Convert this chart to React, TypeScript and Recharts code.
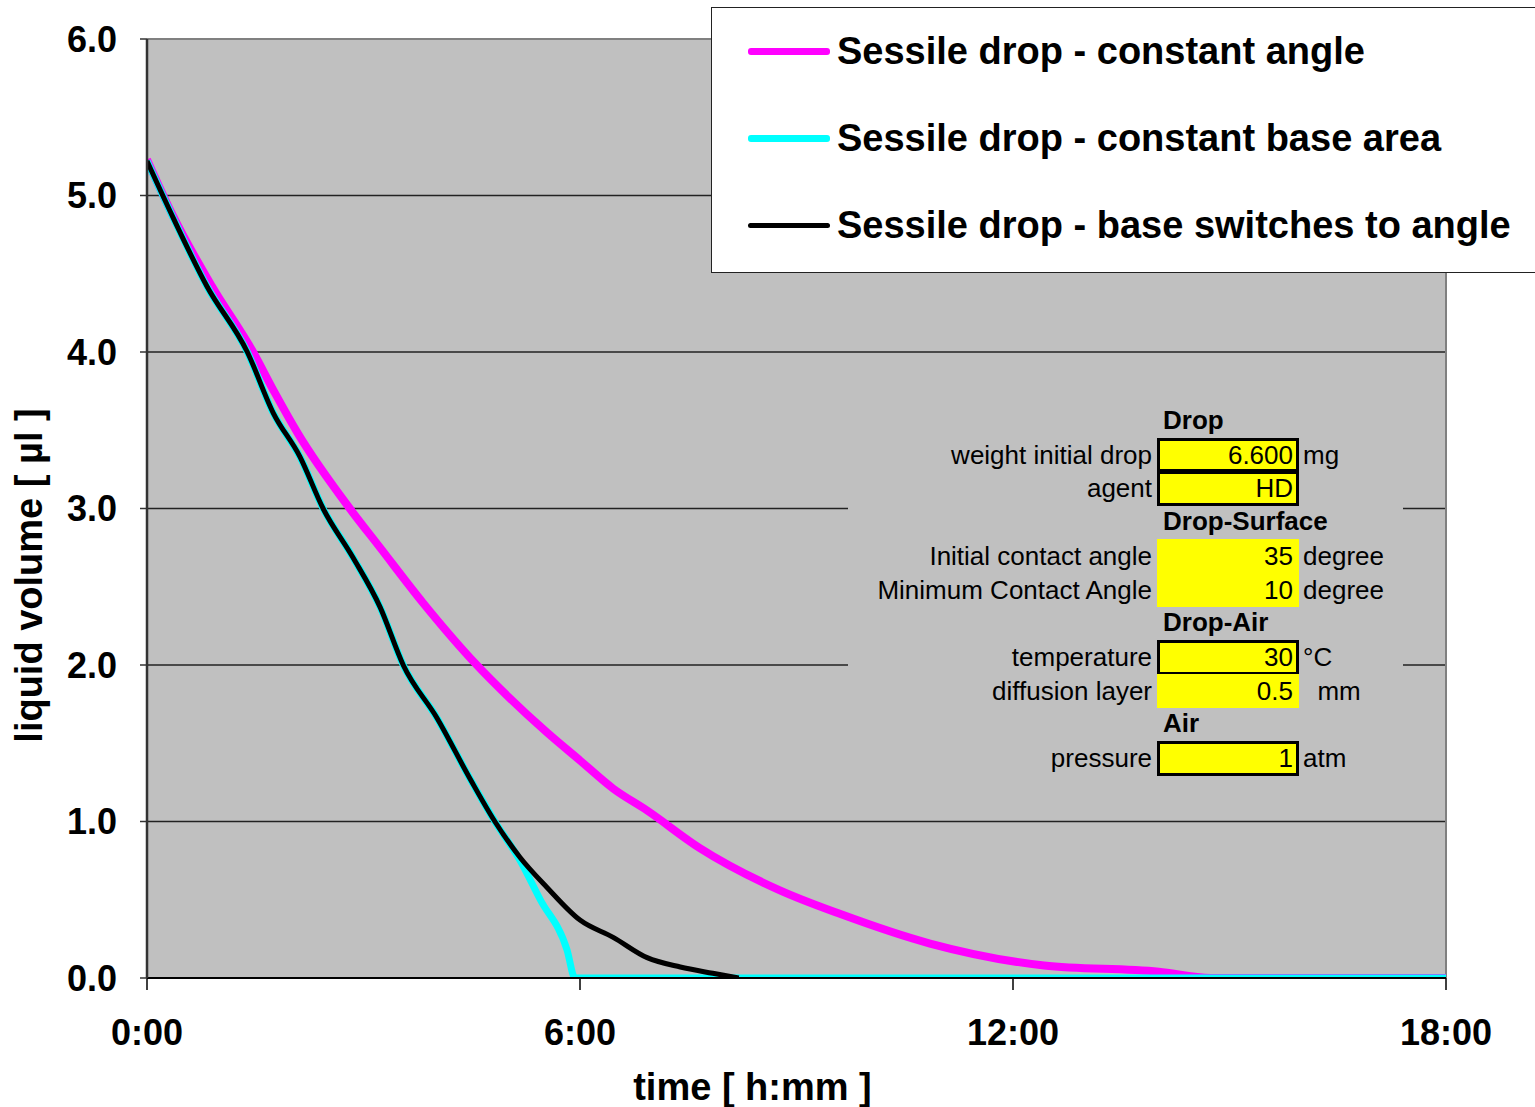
import * as React from 'react';
import {
  LineChart, Line, XAxis, YAxis, CartesianGrid, Legend, ReferenceLine
} from 'recharts';

// time in hours, liquid volume in µl
const angleTime = [0, 0.36, 0.9, 1.47, 1.77, 2.09, 2.81, 3.23, 3.82, 4.57, 5.0, 5.54, 6.0, 6.46, 6.93, 7.66, 8.77, 9.6, 10.85, 12.43, 14.02, 14.74, 18];
const angleVol = [5.23, 4.87, 4.42, 4.0, 3.74, 3.48, 3.0, 2.75, 2.4, 2.0, 1.8, 1.57, 1.39, 1.21, 1.07, 0.83, 0.56, 0.41, 0.22, 0.08, 0.04, 0, 0];

const baseTime = [0, 0.36, 0.83, 1.39, 1.75, 2.12, 2.44, 2.85, 3.23, 3.55, 4.02, 4.48, 4.82, 5.17, 5.45, 5.82, 5.93, 18];
const baseVol = [5.22, 4.86, 4.42, 4.0, 3.61, 3.33, 3.0, 2.69, 2.37, 2.0, 1.66, 1.27, 1.0, 0.75, 0.5, 0.18, 0, 0];

const switchTime = [0, 0.36, 0.83, 1.39, 1.75, 2.12, 2.44, 2.85, 3.23, 3.55, 4.02, 4.48, 4.82, 5.17, 5.54, 6.0, 6.46, 6.93, 7.39, 7.84, 8.2];
const switchVol = [5.22, 4.86, 4.42, 4.0, 3.61, 3.33, 3.0, 2.69, 2.37, 2.0, 1.66, 1.27, 1.0, 0.77, 0.58, 0.37, 0.26, 0.13, 0.07, 0.03, 0];

const seriesNames = ['Sessile drop - constant angle', 'Sessile drop - constant base area', 'Sessile drop - base switches to angle'];
const seriesColors = ['#FF00FF', '#00FFFF', '#000000'];
const seriesWidths = [8, 7, 5];
const legendWidths = [7, 7, 5];

const xTicks = [0, 6, 12, 18];
const yTicks = [0, 1, 2, 3, 4, 5, 6];

// parameter table: [label, value, unit, boxed] ; header rows have only a label
const tableRows: Array<[string, string?, string?, boolean?]> = [
  ['Drop'],
  ['weight initial drop', '6.600', 'mg', true],
  ['agent', 'HD', '', true],
  ['Drop-Surface'],
  ['Initial contact angle', '35', 'degree', false],
  ['Minimum Contact Angle', '10', 'degree', false],
  ['Drop-Air'],
  ['temperature', '30', '°C', true],
  ['diffusion layer', '0.5', '  mm', false],
  ['Air'],
  ['pressure', '1', 'atm', true],
];

const toPoints = (ts: number[], vs: number[]) => ts.map((t, i) => ({ t, v: vs[i] }));
const seriesData = [
  toPoints(angleTime, angleVol),
  toPoints(baseTime, baseVol),
  toPoints(switchTime, switchVol),
];

const FONT = '"Liberation Sans", Arial, sans-serif';

function hmm(v: number) {
  const h = Math.floor(v);
  const m = Math.round((v - h) * 60);
  return `${h}:${String(m).padStart(2, '0')}`;
}

function LegendBox() {
  return (
    <div style={{
      width: 824, height: 266, background: '#fff', boxSizing: 'border-box',
      borderLeft: '1.5px solid #222', borderTop: '1.5px solid #222', borderBottom: '1.5px solid #222',
      position: 'relative', fontFamily: FONT,
    }}>
      {seriesNames.map((name, i) => (
        <div key={name} style={{
          position: 'absolute', left: 36, top: 43 + i * 87 - 25, height: 50,
          display: 'flex', alignItems: 'center', whiteSpace: 'nowrap'
        }}>
          <div style={{ width: 82, height: legendWidths[i], background: seriesColors[i], borderRadius: 3 }} />
          <span style={{ marginLeft: 7, fontSize: 38, fontWeight: 'bold', color: '#000' }}>{name}</span>
        </div>
      ))}
    </div>
  );
}

function ParamTable() {
  const rowH = 33.7;
  return (
    <div style={{
      position: 'absolute', left: 848, top: 395, width: 555, height: 395,
      background: '#C0C0C0', fontFamily: FONT, fontSize: 26, color: '#000'
    }}>
      {tableRows.map((r, i) => {
        const top = 9 + i * rowH;
        if (r.length === 1) {
          return (
            <div key={i} style={{ position: 'absolute', left: 315, top, height: rowH, lineHeight: `${rowH}px`, fontWeight: 'bold' }}>
              {r[0]}
            </div>
          );
        }
        const [label, value, unit, boxed] = r;
        return (
          <React.Fragment key={i}>
            <div style={{ position: 'absolute', right: 555 - 304, top: top + 1, height: rowH, lineHeight: `${rowH}px`, whiteSpace: 'nowrap' }}>
              {label}
            </div>
            <div style={{
              position: 'absolute', left: 309, top, width: 142, height: rowH + 1, background: '#FFFF00',
              boxSizing: 'border-box', border: boxed ? '3px solid #000' : 'none',
              textAlign: 'right', paddingRight: boxed ? 3 : 6, lineHeight: `${boxed ? rowH - 5 : rowH + 2}px`
            }}>
              {value}
            </div>
            <div style={{ position: 'absolute', left: 455, top: top + 1, height: rowH, lineHeight: `${rowH}px`, whiteSpace: 'pre' }}>
              {unit}
            </div>
          </React.Fragment>
        );
      })}
    </div>
  );
}

export default function App() {
  const tickStyle = { fontSize: 36, fontWeight: 'bold', fill: '#000', fontFamily: FONT };
  return (
    <div style={{ position: 'absolute', left: 0, top: 0, width: 1535, height: 1107, background: '#fff' }}>
      <LineChart width={1535} height={1107} margin={{ top: 39, right: 89, bottom: 0, left: 0 }}>
        <CartesianGrid vertical={false} fill="#C0C0C0" stroke="#222" strokeWidth={1.3} />
        <XAxis
          dataKey="t" type="number" domain={[0, 18]} ticks={xTicks} tickFormatter={hmm}
          height={129} tickSize={12} tickMargin={29} allowDataOverflow
          axisLine={{ stroke: '#000', strokeWidth: 2 }} tickLine={{ stroke: '#000', strokeWidth: 1.5 }}
          tick={tickStyle}
          label={{
            content: (p: any) => {
              const vb = p.viewBox;
              return (
                <text x={vb.x + vb.width / 2 - 44} y={vb.y + 122} textAnchor="middle"
                  style={{ fontSize: 38, fontWeight: 'bold', fontFamily: FONT }} fill="#000">
                  time [ h:mm ]
                </text>
              );
            }
          }}
        />
        <YAxis
          domain={[0, 6]} ticks={yTicks} tickFormatter={(v: number) => v.toFixed(1)}
          width={147} tickSize={7} tickMargin={23} allowDataOverflow
          axisLine={{ stroke: '#333', strokeWidth: 2.5 }} tickLine={{ stroke: '#333', strokeWidth: 1.5 }}
          tick={tickStyle}
          label={{
            content: (p: any) => {
              const vb = p.viewBox;
              const cx = vb.x + 42;
              const cy = vb.y + vb.height / 2 + 67;
              return (
                <text x={cx} y={cy} textAnchor="middle" transform={`rotate(-90 ${cx} ${cy})`}
                  style={{ fontSize: 38, fontWeight: 'bold', fontFamily: FONT }} fill="#000">
                  liquid volume [ µl ]
                </text>
              );
            }
          }}
        />
        <ReferenceLine y={6} stroke="#808080" strokeWidth={2} />
        <ReferenceLine x={18} stroke="#808080" strokeWidth={2} />
        {seriesData.map((d, i) => (
          <Line key={seriesNames[i]} data={d} dataKey="v" name={seriesNames[i]} type="monotone"
            stroke={seriesColors[i]} strokeWidth={seriesWidths[i]} strokeLinejoin="round"
            dot={false} activeDot={false} isAnimationActive={false} />
        ))}
        <Legend
          layout="horizontal" verticalAlign="middle" align="center"
          wrapperStyle={{ position: 'absolute', left: 711, top: 7, width: 824, height: 266 }}
          content={() => <LegendBox />}
        />
      </LineChart>
      <ParamTable />
    </div>
  );
}
